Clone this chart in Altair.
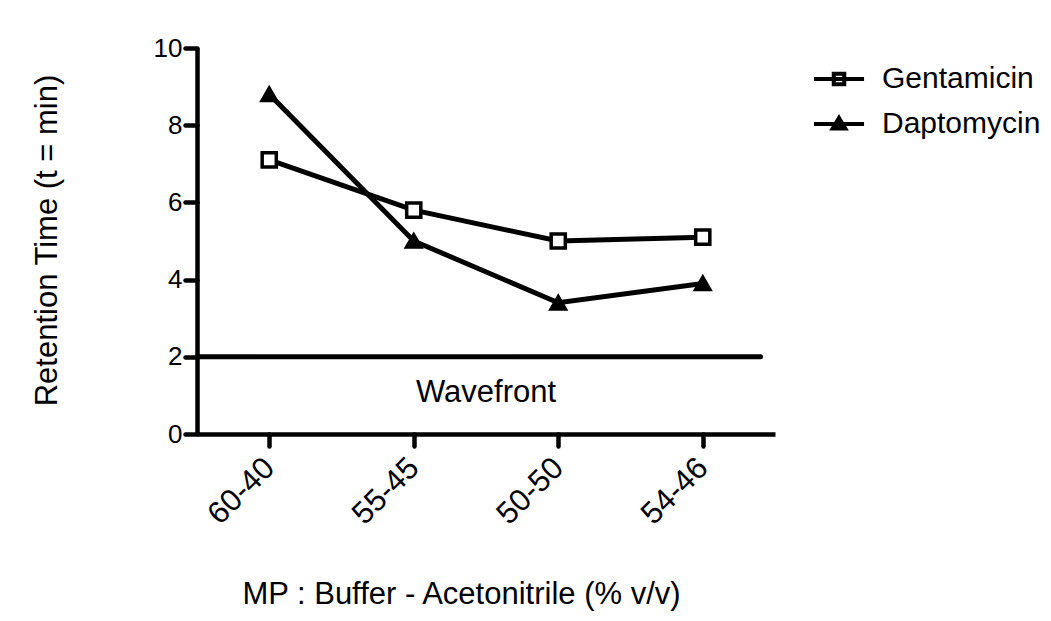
import altair as alt
import pandas as pd

categories = ["60-40", "55-45", "50-50", "54-46"]
series_names = ["Gentamicin", "Daptomycin"]
gentamicin = [7.1, 5.8, 5.0, 5.1]
daptomycin = [8.8, 5.0, 3.4, 3.9]
y_ticks = [0, 2, 4, 6, 8, 10]
wavefront_y = 2
wavefront_label = "Wavefront"
wavefront_label_pos = [1.5, 1.05]
x_title = "MP : Buffer - Acetonitrile (% v/v)"
y_title = "Retention Time (t = min)"

rows = []
for s, vals in zip(series_names, [gentamicin, daptomycin]):
    for i, (c, v) in enumerate(zip(categories, vals)):
        rows.append({"series": s, "idx": i, "cat": c, "value": v})
df = pd.DataFrame(rows)

rule_df = pd.DataFrame([{"x": -0.5, "x2": 3.4, "y": wavefront_y}])
text_df = pd.DataFrame([{"x": wavefront_label_pos[0], "y": wavefront_label_pos[1], "t": wavefront_label}])

FONT = "Liberation Sans"
TITLE_TXT = 31
LEG_TXT = 30
XTICK_TXT = 31
YTICK_TXT = 26
LW = 4.5
label_expr = "[" + ",".join(f"'{c}'" for c in categories) + "][datum.value]"

x_scale = alt.Scale(domain=[-0.5, 3.5], nice=False, zero=False)
y_scale = alt.Scale(domain=[0, 10], nice=False)

x_axis = alt.Axis(
    values=list(range(len(categories))), labelExpr=label_expr, labelAngle=-45,
    labelAlign="right", labelBaseline="middle", labelFontSize=XTICK_TXT, labelFont=FONT,
    labelColor="black", labelPadding=17, labelOffset=0, grid=False,
    domainColor="black", domainWidth=LW, tickColor="black", tickWidth=LW,
    tickSize=12, tickCap="round", title=x_title, titleFont=FONT, titleFontSize=TITLE_TXT,
    titleFontWeight="normal", titleColor="black", titleX=264, titleY=169,
    titleBaseline="alphabetic",
)
y_axis = alt.Axis(
    values=y_ticks, labelFontSize=YTICK_TXT, labelFont=FONT, labelColor="black",
    labelPadding=3, grid=False, domainColor="black", domainWidth=LW,
    tickColor="black", tickWidth=LW, tickSize=12, tickCap="round",
    title=y_title, titleFont=FONT, titleFontSize=TITLE_TXT, titleFontWeight="normal",
    titleColor="black", titleX=-150, titleY=192, titleAngle=-90,
    titleBaseline="middle",
)

x_enc = alt.X("idx:Q", scale=x_scale, axis=x_axis)
y_enc = alt.Y("value:Q", scale=y_scale, axis=y_axis)

base = alt.Chart(df)

lines = base.mark_line(color="black", strokeWidth=5).encode(
    x=x_enc, y=y_enc, detail="series:N"
)

points = base.mark_point(stroke="black", strokeWidth=3.5, size=200, opacity=1).encode(
    x=x_enc, y=y_enc,
    shape=alt.Shape("series:N", scale=alt.Scale(domain=series_names, range=["square", "triangle-up"]), legend=None),
    fill=alt.Fill("series:N", scale=alt.Scale(domain=series_names, range=["white", "black"]), legend=None),
)

# legend glyphs: line through an open square / a solid (stroke-filled) triangle
sq_path = "M-1.67,0H-0.35M0.35,0H1.67M-0.35,-0.35H0.35V0.35H-0.35ZM-0.35,0H0.35"
tri_path = ("M-1.67,0H1.67M0,-0.4L0.42,0.3H-0.42ZM0,-0.4V0.3"
            "M-0.24,0.1H0.24M-0.33,0.2H0.33")

legend_layer = base.transform_filter("false").mark_point(
    stroke="black", fill="white", filled=True, strokeWidth=4, opacity=1
).encode(
    x=x_enc, y=y_enc,
    shape=alt.Shape(
        "series:N",
        scale=alt.Scale(domain=series_names, range=[sq_path, tri_path]),
        legend=alt.Legend(
            title=None, orient="none", legendX=625, legendY=14, padding=0,
            symbolSize=900, symbolStrokeWidth=4, symbolOpacity=1,
            labelFont=FONT, labelFontSize=LEG_TXT, labelColor="black",
            labelOffset=26, rowPadding=13,
        ),
    ),
)

rule = alt.Chart(rule_df).mark_rule(color="black", strokeWidth=5, strokeCap="round").encode(
    x=alt.X("x:Q", scale=x_scale, axis=x_axis), x2="x2:Q",
    y=alt.Y("y:Q", scale=y_scale, axis=y_axis),
)

text = alt.Chart(text_df).mark_text(font=FONT, fontSize=TITLE_TXT, color="black").encode(
    x=alt.X("x:Q", scale=x_scale, axis=x_axis),
    y=alt.Y("y:Q", scale=y_scale, axis=y_axis),
    text="t:N",
)

chart = alt.layer(rule, text, lines, points, legend_layer).resolve_scale(
    shape="independent", fill="independent"
).properties(
    width=578, height=386, background="white",
    autosize=alt.AutoSizeParams(type="none"),
    padding={"left": 189, "top": 40, "right": 268, "bottom": 179},
).configure_view(stroke="transparent", strokeWidth=0)

chart.save("out.html", embed_options={"renderer": "svg", "actions": False})
